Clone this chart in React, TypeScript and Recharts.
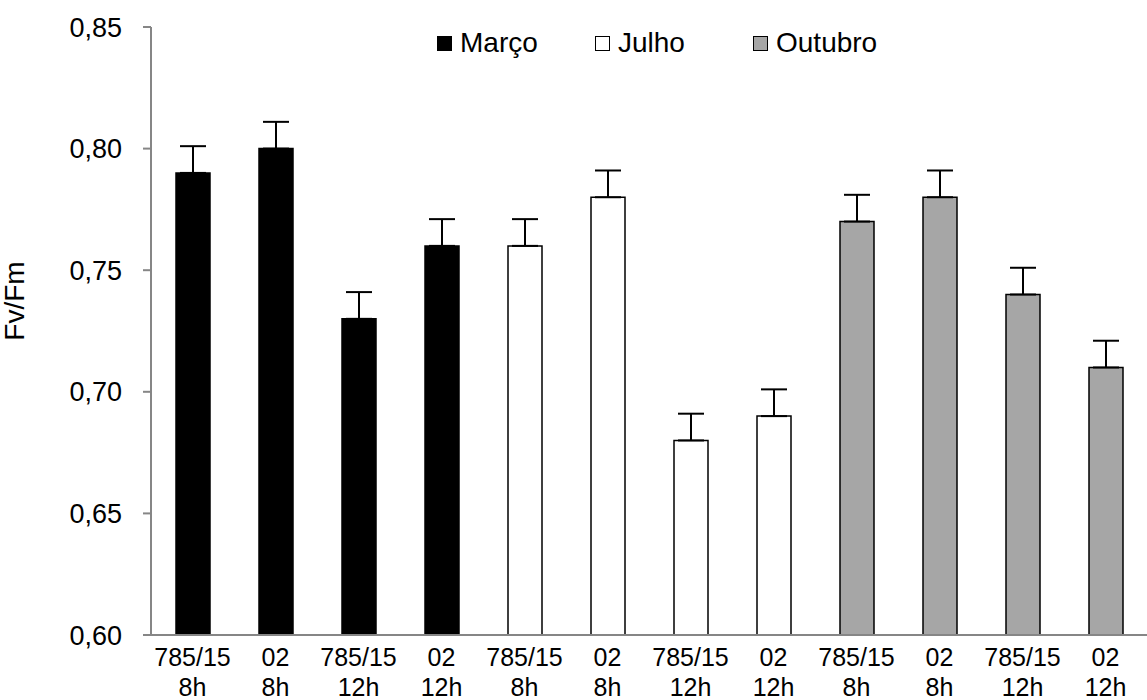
import { Bar, BarChart, Cell, ErrorBar, XAxis, YAxis } from "recharts";

const months = ["Março", "Julho", "Outubro"];
const monthColors = ["#000000", "#ffffff", "#a6a6a6"];
const clones = ["785/15", "02", "785/15", "02"];
const shifts = ["8h", "8h", "12h", "12h"];
const marco = [0.79, 0.8, 0.73, 0.76];
const julho = [0.76, 0.78, 0.68, 0.69];
const outubro = [0.77, 0.78, 0.74, 0.71];
const erro = 0.011;
const yTicks = [0.6, 0.65, 0.7, 0.75, 0.8, 0.85];

const series = [marco, julho, outubro];
const data = series.flatMap((vals, m) =>
  vals.map((v, i) => ({
    clone: clones[i],
    shift: shifts[i],
    month: m,
    value: v,
    err: [0, erro],
  }))
);

const font = "'Liberation Sans', Arial, sans-serif";
const axisGray = "#868686";

function XTick({ x, y, payload }: any) {
  const d = data[payload.index];
  return (
    <text x={x} y={y} textAnchor="middle" fontFamily={font} fontSize={25} fill="#000">
      <tspan x={x} dy={23}>{d.clone}</tspan>
      <tspan x={x} dy={30}>{d.shift}</tspan>
    </text>
  );
}

function Legenda() {
  return (
    <div
      style={{
        position: "absolute",
        left: 437,
        top: 26,
        display: "flex",
        fontFamily: font,
        fontSize: 28,
        lineHeight: "34px",
      }}
    >
      {months.map((m, i) => (
        <div key={m} style={{ width: 158, display: "flex", alignItems: "center" }}>
          <span
            style={{
              width: 13,
              height: 13,
              background: monthColors[i],
              border: "1px solid #000",
              marginRight: 8,
              display: "inline-block",
            }}
          />
          <span>{m}</span>
        </div>
      ))}
    </div>
  );
}

export default function App() {
  return (
    <div style={{ position: "absolute", left: 0, top: 0, width: 1147, height: 700, background: "#fff" }}>
      <BarChart
        width={1147}
        height={700}
        data={data}
        margin={{ top: 27, right: 0, left: 0, bottom: 0 }}
      >
        <XAxis
          dataKey="clone"
          interval={0}
          tickLine={false}
          axisLine={{ stroke: axisGray, strokeWidth: 2 }}
          tick={<XTick />}
          height={65}
        />
        <YAxis
          domain={[0.6, 0.85]}
          ticks={yTicks}
          width={151}
          tickFormatter={(v: number) => v.toFixed(2).replace(".", ",")}
          tick={{ fontSize: 27, fill: "#000", fontFamily: font }}
          tickSize={8}
          tickMargin={21}
          tickLine={{ stroke: axisGray, strokeWidth: 2 }}
          axisLine={{ stroke: axisGray, strokeWidth: 2 }}
          label={{
            value: "Fv/Fm",
            angle: -90,
            position: "insideLeft",
            offset: 14,
            dy: -30,
            style: { fontSize: 28, fill: "#000", fontFamily: font, textAnchor: "middle" },
          }}
        />
        <Bar dataKey="value" barSize={34} stroke="#000" strokeWidth={1.5} isAnimationActive={false}>
          {data.map((d, i) => (
            <Cell key={i} fill={monthColors[d.month]} />
          ))}
          <ErrorBar dataKey="err" width={13} stroke="#000" strokeWidth={2} isAnimationActive={false} />
        </Bar>
      </BarChart>
      <Legenda />
    </div>
  );
}
